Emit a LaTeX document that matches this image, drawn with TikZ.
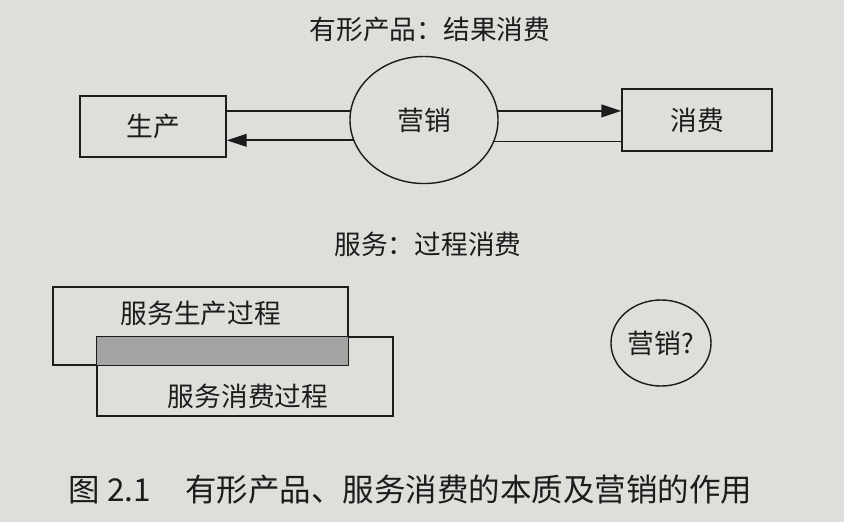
\documentclass[tikz,border=0pt]{standalone}
\usepackage{fontspec}
\setmainfont{Noto Sans CJK SC}
\usetikzlibrary{shapes.geometric,arrows.meta}

\definecolor{paper}{RGB}{222,222,219}
\definecolor{ink}{RGB}{28,28,28}
\definecolor{overlap}{RGB}{163,163,161}

\newcommand{\diagfont}{\fontsize{19pt}{21pt}\selectfont}
\newcommand{\capfont}{\fontsize{22.4pt}{24pt}\selectfont}

\tikzset{
    flowbox/.style={draw=ink, line width=1pt, rectangle, inner sep=0pt, text=ink, font=\diagfont},
    flowline/.style={draw=ink, line width=1.2pt},
    tip/.style={-{Triangle[length=0.5cm,width=0.32cm]}}
}

\begin{document}
\begin{tikzpicture}[x=0.025cm, y=-0.025cm]
        \fill[paper] (0,0) rectangle (844,522);

        % tangible goods
        \node[text=ink, font=\diagfont] (goodstitle) at (430,29) {有形产品：结果消费};

        \node[
            flowbox,
            minimum width=3.65cm,
            minimum height=1.525cm
        ] (prod) at (153,126.5) {生产};

        \node[
            flowbox,
            shape=ellipse,
            minimum width=3.7cm,
            minimum height=3.175cm
        ] (mkt) at (424,120) {营销};

        \node[
            flowbox,
            minimum width=3.75cm,
            minimum height=1.55cm
        ] (cons) at (697,120) {消费};

        \draw[flowline] (prod.east |- mkt.173) -- (mkt.173);
        \draw[flowline, tip] (mkt.196) -- (prod.east |- mkt.196);
        \draw[flowline, tip] (mkt.7) -- (cons.west |- mkt.7);
        \draw[flowline] (mkt.-17) -- (cons.west |- mkt.-17);

        % services
        \node[text=ink, font=\diagfont] (servtitle) at (428,244) {服务：过程消费};

        \node[
            flowbox,
            minimum width=7.375cm,
            minimum height=1.95cm
        ] (prodproc) at (200.5,326) {};

        \node[
            flowbox,
            minimum width=7.4cm,
            minimum height=1.975cm
        ] (consproc) at (245,376.5) {};

        \fill[overlap]
            ([shift={(0.6pt,-0.6pt)}]consproc.north west)
            rectangle ([shift={(-0.6pt,0.6pt)}]prodproc.south east);

        \node[text=ink, font=\diagfont] (prodproctext) at (201,313) {服务生产过程};
        \node[text=ink, font=\diagfont] (consproctext) at (248,396) {服务消费过程};

        \node[
            flowbox,
            shape=ellipse,
            minimum width=2.5cm,
            minimum height=2.15cm
        ] (mktq) at (661,343) {营销?};

        % caption
        \node[
            anchor=west,
            text=ink,
            font=\capfont
        ] (caption) at (64,490) {图 2.1\hspace{0.85cm}有形产品、服务消费的本质及营销的作用};
    \end{tikzpicture}
\end{document}
